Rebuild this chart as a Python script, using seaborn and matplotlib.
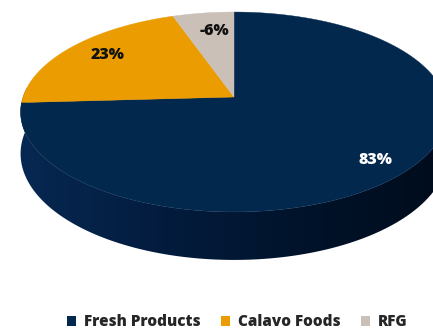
import numpy as np
import matplotlib
matplotlib.use("Agg")
import matplotlib.pyplot as plt
from matplotlib.patches import Patch, Polygon
from matplotlib.colors import LinearSegmentedColormap
import seaborn as sns

# ---- data ----
categories = ["Fresh Products", "Calavo Foods", "RFG"]
values = [83, 23, -6]
labels = ["83%", "23%", "-6%"]
colors = ["#03284E", "#EB9C00", "#CBC0B7"]
label_colors = ["white", "#111111", "#111111"]

sns.set_theme(style="white")
plt.rcParams["font.family"] = ["Open Sans", "DejaVu Sans"]

fig = plt.figure(figsize=(4.33, 3.31), dpi=100)
ax = fig.add_axes([0, 0, 1, 1])
ax.set_xlim(0, 433)
ax.set_ylim(331, 0)
ax.axis("off")

# 3D pie geometry (perspective)
cx, cy = 234.0, 97.0
Rx, Ry = 211.0, 97.7
D = 6.67
H = 40.8


def proj(t, depth=0.0):
    x, y = np.cos(t), np.sin(t)
    s = D / (D + y)
    return cx + Rx * x * s, cy + (-Ry * y + depth) * s


# slice angles (absolute values, clockwise from 12 o'clock)
absvals = np.abs(np.array(values, dtype=float))
fracs = absvals / absvals.sum()
start = np.pi / 2
bounds = []
a = start
for f in fracs:
    bounds.append((a, a - 2 * np.pi * f))
    a = a - 2 * np.pi * f

# side wall (front half) as one polygon with a horizontal gradient
ts = np.linspace(np.pi * 0.97, 2 * np.pi * 1.015, 400)
tx, ty = proj(ts)
bx, by = proj(ts[::-1], H)
side_poly = Polygon(np.column_stack([np.concatenate([tx, bx]),
                                     np.concatenate([ty, by])]),
                    closed=True, facecolor="none", edgecolor="none")
ax.add_patch(side_poly)
side_cmap = LinearSegmentedColormap.from_list(
    "side", ["#072852", "#031C3E", "#01132A", "#000C1C"])
grad = np.linspace(0, 1, 256)[None, :]
im = ax.imshow(grad, cmap=side_cmap, extent=(20, 445, 0, 331),
               aspect="auto", zorder=1, interpolation="bilinear")
ax.set_xlim(0, 433)
ax.set_ylim(331, 0)
im.set_clip_path(side_poly)

# top surface slices
for (a0, a1), col in zip(bounds, colors):
    tt = np.linspace(a0, a1, 300)
    px, py = proj(tt)
    xs = np.concatenate([[cx], px, [cx]])
    ys = np.concatenate([[cy], py, [cy]])
    ax.fill(xs, ys, color=col, lw=0.3, ec=col, zorder=2)

# labels
label_pos = [(375, 160), (108, 55), (214, 31)]
for (lx, ly), txt, lc in zip(label_pos, labels, label_colors):
    ax.text(lx, ly, txt, ha="center", va="center", fontsize=11.5,
            fontweight="heavy", color=lc, zorder=3)

handles = [Patch(facecolor=c, edgecolor="none") for c in colors]
fig.legend(handles, categories, loc="center", bbox_to_anchor=(0.548, 0.027),
           ncol=3, frameon=False, handlelength=0.6,
           handleheight=0.6, handletextpad=0.5, columnspacing=1.35,
           prop={"weight": "heavy", "size": 11})

fig.savefig("out.png", dpi=100)
